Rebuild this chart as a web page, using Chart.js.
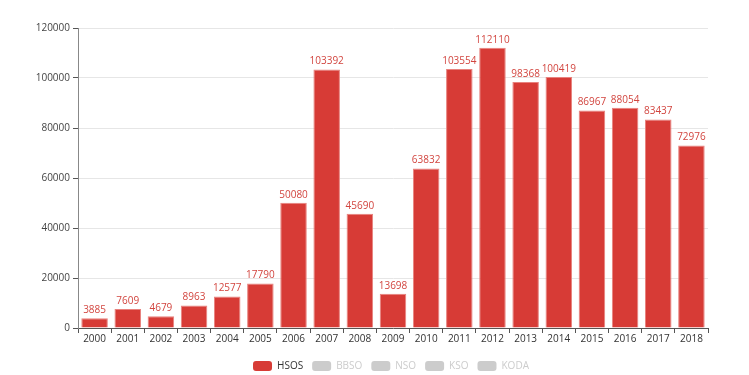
<!DOCTYPE html>
<html>
<head>
<meta charset="utf-8">
<script src="https://cdn.jsdelivr.net/npm/chart.js@4"></script>
<style>
  html, body { margin: 0; padding: 0; background: #fff; }
  .chart-wrapper { width: 749px; height: 375px; position: relative; }
</style>
</head>
<body>
<div class="chart-wrapper"><canvas id="bar-chart"></canvas></div>
<script>
const years = ['2000', '2001', '2002', '2003', '2004', '2005', '2006', '2007', '2008', '2009',
  '2010', '2011', '2012', '2013', '2014', '2015', '2016', '2017', '2018'];
const hsos = [3885, 7609, 4679, 8963, 12577, 17790, 50080, 103392, 45690, 13698,
  63832, 103554, 112110, 98368, 100419, 86967, 88054, 83437, 72976];
const seriesNames = ['HSOS', 'BBSO', 'NSO', 'KSO', 'KODA'];
const yTicks = [0, 20000, 40000, 60000, 80000, 100000, 120000];

const RED = '#d73b36';
const GREY = '#cccccc';
const FONT = '"Open Sans", "Liberation Sans", sans-serif';

// value labels above the bars
const valueLabels = {
  id: 'valueLabels',
  afterDatasetsDraw(chart) {
    const { ctx } = chart;
    chart.data.datasets.forEach((ds, i) => {
      if (!chart.isDatasetVisible(i)) return;
      const meta = chart.getDatasetMeta(i);
      meta.data.forEach((bar, j) => {
        const v = ds.data[j];
        if (v == null) return;
        ctx.save();
        ctx.font = '10px ' + FONT;
        ctx.fillStyle = '#d2453f';
        ctx.textAlign = 'center';
        ctx.textBaseline = 'bottom';
        ctx.fillText(String(v), bar.x, bar.y - 3);
        ctx.restore();
      });
    });
  },
};

// legend sits a bit right of the plot centre in the original
const legendShift = {
  id: 'legendShift',
  afterLayout(chart) {
    if (!chart.legend) return;
    chart.legend.left += 37;
    chart.legend.right += 37;
  },
};

const datasets = seriesNames.map((name, i) => ({
  label: name,
  data: i === 0 ? hsos : [],
  hidden: i !== 0,
  backgroundColor: RED,
  borderColor: '#e8827e',
  borderWidth: 1,
  borderSkipped: 'bottom',
  barPercentage: 0.8,
  categoryPercentage: 1,
}));

new Chart(document.getElementById('bar-chart').getContext('2d'), {
  type: 'bar',
  data: { labels: years, datasets },
  plugins: [valueLabels, legendShift],
  options: {
    responsive: true,
    maintainAspectRatio: false,
    animation: false,
    layout: { padding: { left: 0, right: 41, top: 28, bottom: -6 } },
    plugins: {
      tooltip: { enabled: false },
      legend: {
        position: 'bottom',
        onClick: null,
        labels: {
          font: { family: FONT, size: 10 },
          boxWidth: 19,
          boxHeight: 10,
          useBorderRadius: true,
          borderRadius: 3,
          padding: 9,
          generateLabels: chart => chart.data.datasets.map((ds, i) => ({
            text: ds.label,
            fillStyle: i === 0 ? RED : GREY,
            strokeStyle: i === 0 ? RED : GREY,
            lineWidth: 0,
            fontColor: i === 0 ? '#333' : GREY,
            hidden: false,
            datasetIndex: i,
            borderRadius: 3,
          })),
        },
      },
    },
    scales: {
      x: {
        grid: { display: true, drawOnChartArea: false, offset: true, color: '#555', tickLength: 5 },
        border: { color: '#555' },
        ticks: { color: '#333', font: { family: FONT, size: 10 }, padding: 0, maxRotation: 0 },
        afterFit: scale => { scale.height = 24; },
      },
      y: {
        min: 0,
        max: 120000,
        afterBuildTicks: scale => { scale.ticks = yTicks.map(v => ({ value: v })); },
        grid: { color: '#e6e6e6', tickColor: '#555', tickLength: 5 },
        border: { color: '#888' },
        ticks: { color: '#444', font: { family: FONT, size: 10 }, padding: 3, callback: v => String(v) },
        afterFit: scale => { scale.width = 78; },
      },
    },
  },
});
</script>
</body>
</html>
